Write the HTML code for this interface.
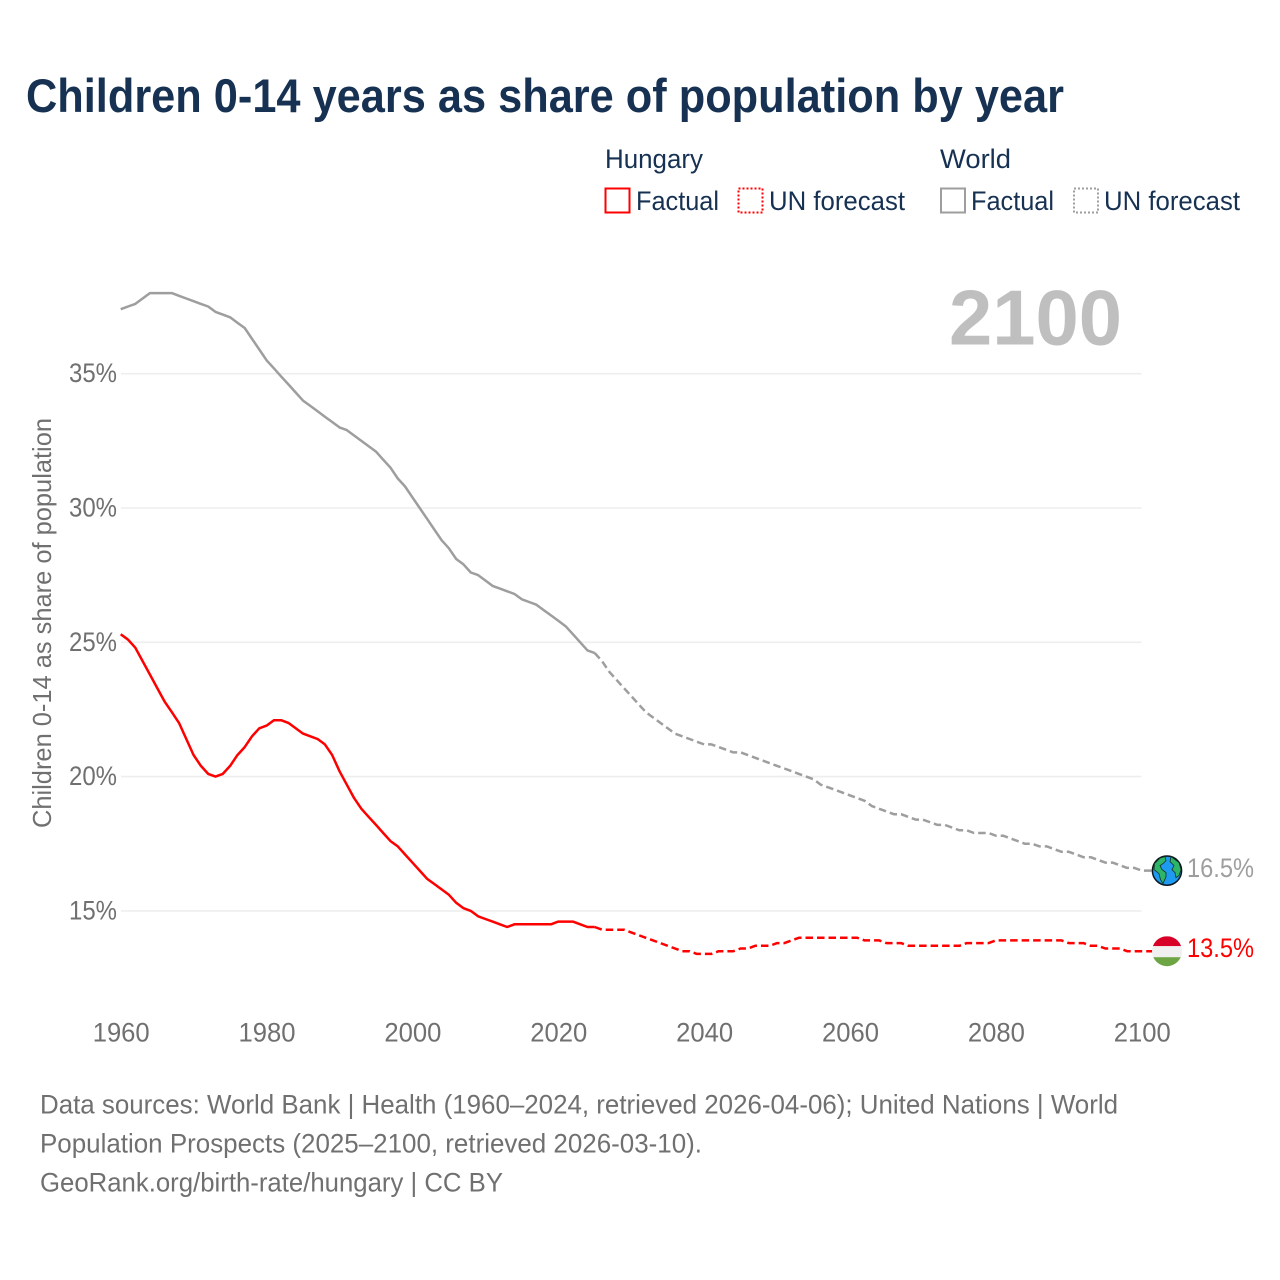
<!DOCTYPE html>
<html lang="en">
<head>
<meta charset="utf-8">
<title>Children 0-14 years as share of population by year</title>
<style>
html,body{margin:0;padding:0;background:#fff;width:1280px;height:1280px;overflow:hidden}
svg{display:block}
text{font-family:"Liberation Sans",sans-serif}
</style>
</head>
<body>
<svg id="chart" xmlns="http://www.w3.org/2000/svg" width="1280" height="1280" viewBox="0 0 1280 1280">
  <rect x="0" y="0" width="1280" height="1280" fill="#fff"/>
  <text x="26" y="112" font-size="47" font-weight="700" fill="#163152" textLength="1038" lengthAdjust="spacingAndGlyphs">Children 0-14 years as share of population by year</text>

  <g font-size="27" fill="#163152">
    <text x="605" y="168" textLength="98" lengthAdjust="spacingAndGlyphs">Hungary</text>
    <rect x="605.5" y="188.5" width="24" height="24" fill="none" stroke="#ff0000" stroke-width="2"/>
    <text x="636" y="210" textLength="83" lengthAdjust="spacingAndGlyphs">Factual</text>
    <rect x="738.5" y="188.5" width="24" height="24" fill="none" stroke="#ff0000" stroke-width="2" stroke-dasharray="2 2"/>
    <text x="769" y="210" textLength="136" lengthAdjust="spacingAndGlyphs">UN forecast</text>
    <text x="940" y="168" textLength="71" lengthAdjust="spacingAndGlyphs">World</text>
    <rect x="941" y="188.5" width="24" height="24" fill="none" stroke="#9e9e9e" stroke-width="2"/>
    <text x="971" y="210" textLength="83" lengthAdjust="spacingAndGlyphs">Factual</text>
    <rect x="1074" y="188.5" width="24" height="24" fill="none" stroke="#9e9e9e" stroke-width="2" stroke-dasharray="2 2"/>
    <text x="1104" y="210" textLength="136" lengthAdjust="spacingAndGlyphs">UN forecast</text>
  </g>

  <text x="949" y="344.5" font-size="78" font-weight="700" fill="#bfbfbf" textLength="173" lengthAdjust="spacingAndGlyphs">2100</text>
  <text transform="translate(51 828) rotate(-90)" font-size="26" fill="#707070" textLength="410" lengthAdjust="spacingAndGlyphs">Children 0-14 as share of population</text>

  <g id="grid"></g>
  <g id="yticks"></g>
  <g id="xticks"></g>
  <g id="series"></g>

  <g id="world-icon">
    <circle cx="0" cy="0" r="14.6" fill="#1e9bf0" stroke="#0b1620" stroke-width="1.5"/>
    <path d="M-12.5-7-7-12.5-2-14-1-10-4-7-7-5-5-1-1 2-1 6-4 13-6.500 9-8 3-13-1Z" fill="#2fb56a" stroke="#12321f" stroke-width="0.8"/>
    <path d="M4-14 12-8 14-1 12 5 9 7 8 2 5-1 7-5 3-9Z" fill="#2fb56a" stroke="#12321f" stroke-width="0.8"/>
  </g>
  <g id="hungary-icon">
    <clipPath id="flag-clip"><circle cx="0" cy="0" r="15"/></clipPath>
    <g clip-path="url(#flag-clip)">
      <rect x="-15" y="-15" width="30" height="10" fill="#d80027"/>
      <rect x="-15" y="-5" width="30" height="11" fill="#f0f0f0"/>
      <rect x="-15" y="6" width="30" height="10" fill="#6da544"/>
    </g>
  </g>
  <g id="endlabels"></g>

  <g font-size="26.5" fill="#707070">
    <text x="40" y="1113.500" textLength="1078" lengthAdjust="spacingAndGlyphs">Data sources: World Bank | Health (1960–2024, retrieved 2026-04-06); United Nations | World</text>
    <text x="40" y="1152.500" textLength="662" lengthAdjust="spacingAndGlyphs">Population Prospects (2025–2100, retrieved 2026-03-10).</text>
    <text x="40" y="1191.500" textLength="463" lengthAdjust="spacingAndGlyphs">GeoRank.org/birth-rate/hungary | CC BY</text>
  </g>
</svg>
<script>
const xTickYears = [1960, 1980, 2000, 2020, 2040, 2060, 2080, 2100];
const yTickValues = [15, 20, 25, 30, 35];
const factualStartYear = 1960;
const forecastStartYear = 2025;
const hungaryFactual = [25.3,25.1,24.8,24.3,23.8,23.3,22.8,22.4,22.0,21.4,20.8,20.4,20.1,20.0,20.1,20.4,20.8,21.1,21.5,21.8,21.9,22.1,22.1,22.0,21.8,21.6,21.5,21.4,21.2,20.8,20.2,19.7,19.2,18.8,18.5,18.2,17.9,17.6,17.4,17.1,16.8,16.5,16.2,16.0,15.8,15.6,15.3,15.1,15.0,14.8,14.7,14.6,14.5,14.4,14.5,14.5,14.5,14.5,14.5,14.5,14.6,14.6,14.6,14.5,14.4,14.4];
const hungaryForecast = [14.4,14.3,14.3,14.3,14.3,14.2,14.1,14.0,13.9,13.8,13.7,13.6,13.5,13.5,13.4,13.4,13.4,13.5,13.5,13.5,13.6,13.6,13.7,13.7,13.7,13.8,13.8,13.9,14.0,14.0,14.0,14.0,14.0,14.0,14.0,14.0,14.0,13.9,13.9,13.9,13.8,13.8,13.8,13.7,13.7,13.7,13.7,13.7,13.7,13.7,13.7,13.8,13.8,13.8,13.8,13.9,13.9,13.9,13.9,13.9,13.9,13.9,13.9,13.9,13.9,13.8,13.8,13.8,13.7,13.7,13.6,13.6,13.6,13.5,13.5,13.5];
const worldFactual = [37.4,37.5,37.6,37.8,38.0,38.0,38.0,38.0,37.9,37.8,37.7,37.6,37.5,37.3,37.2,37.1,36.9,36.7,36.3,35.9,35.5,35.2,34.9,34.6,34.3,34.0,33.8,33.6,33.4,33.2,33.0,32.9,32.7,32.5,32.3,32.1,31.8,31.5,31.1,30.8,30.4,30.0,29.6,29.2,28.8,28.5,28.1,27.9,27.6,27.5,27.3,27.1,27.0,26.9,26.8,26.6,26.5,26.4,26.2,26.0,25.8,25.6,25.3,25.0,24.7,24.6];
const worldForecast = [24.6,24.3,23.9,23.6,23.3,23.0,22.7,22.4,22.2,22.0,21.8,21.6,21.5,21.4,21.3,21.2,21.2,21.1,21.0,20.9,20.9,20.8,20.7,20.6,20.5,20.4,20.3,20.2,20.1,20.0,19.9,19.7,19.6,19.5,19.4,19.3,19.2,19.1,18.9,18.8,18.7,18.6,18.6,18.5,18.4,18.4,18.3,18.2,18.2,18.1,18.0,18.0,17.9,17.9,17.9,17.8,17.8,17.7,17.6,17.5,17.5,17.4,17.4,17.3,17.2,17.2,17.1,17.0,17.0,16.9,16.8,16.8,16.7,16.6,16.6,16.5];

const NS = 'http://www.w3.org/2000/svg';
const xScale = year => 120.7 + (year - 1960) * 7.293;
const yScale = value => 373.7 + (35 - value) * 26.86;
const ICON_X = 1167;

const grid = document.getElementById('grid');
const yticks = document.getElementById('yticks');
yTickValues.forEach(v => {
  const line = document.createElementNS(NS, 'line');
  
  
  line.setAttribute('x1', 121);
  line.setAttribute('x2', 1141.5);
  line.setAttribute('y1', yScale(v));
  line.setAttribute('y2', yScale(v));
  line.setAttribute('stroke', '#eeeeee');
  line.setAttribute('stroke-width', 1.6);
  grid.appendChild(line);
  const label = document.createElementNS(NS, 'text');
  
  
  label.setAttribute('x', 69);
  label.setAttribute('y', yScale(v) + 8.5);
  label.setAttribute('font-size', 26.5);
  label.setAttribute('fill', '#707070');
  label.setAttribute('textLength', 48);
  label.setAttribute('lengthAdjust', 'spacingAndGlyphs');
  label.textContent = v + '%';
  yticks.appendChild(label);
});

const xticks = document.getElementById('xticks');
xTickYears.forEach(y => {
  const label = document.createElementNS(NS, 'text');
  
  
  label.setAttribute('x', xScale(y) - 28);
  label.setAttribute('y', 1041.5);
  label.setAttribute('font-size', 26.5);
  label.setAttribute('fill', '#707070');
  label.setAttribute('textLength', 57);
  label.setAttribute('lengthAdjust', 'spacingAndGlyphs');
  label.textContent = String(y);
  xticks.appendChild(label);
});

function pathFor(values, startYear, extendToIcon) {
  const pts = values.map((v, i) => xScale(startYear + i).toFixed(1) + ',' + yScale(v).toFixed(1));
  if (extendToIcon) pts.push(ICON_X + ',' + yScale(values[values.length - 1]).toFixed(1));
  return 'M' + pts.join('L');
}

const seriesGroup = document.getElementById('series');
function addLine(d, color, dashed, name) {
  const p = document.createElementNS(NS, 'path');
  
  
  p.setAttribute('d', d);
  p.setAttribute('fill', 'none');
  p.setAttribute('stroke', color);
  p.setAttribute('stroke-width', 2.5);
  p.setAttribute('stroke-linejoin', 'round');
  if (dashed) p.setAttribute('stroke-dasharray', '7.5 4');
  seriesGroup.appendChild(p);
}
addLine(pathFor(worldFactual, factualStartYear, false), '#9e9e9e', false, 'world-factual-line');
addLine(pathFor(worldForecast, forecastStartYear, true), '#9e9e9e', true, 'world-forecast-line');
addLine(pathFor(hungaryFactual, factualStartYear, false), '#ff0000', false, 'hungary-factual-line');
addLine(pathFor(hungaryForecast, forecastStartYear, true), '#ff0000', true, 'hungary-forecast-line');

const worldEnd = worldForecast[worldForecast.length - 1];
const hungaryEnd = hungaryForecast[hungaryForecast.length - 1];
document.getElementById('world-icon').setAttribute('transform', 'translate(' + ICON_X + ' ' + yScale(worldEnd) + ')');
document.getElementById('hungary-icon').setAttribute('transform', 'translate(' + ICON_X + ' ' + yScale(hungaryEnd) + ')');

const endLabels = document.getElementById('endlabels');
const worldLabel = document.createElementNS(NS, 'text');


worldLabel.setAttribute('x', 1187);
worldLabel.setAttribute('y', yScale(worldEnd) + 6.5);
worldLabel.setAttribute('font-size', 26.5);
worldLabel.setAttribute('fill', '#9e9e9e');
worldLabel.setAttribute('textLength', 67);
worldLabel.setAttribute('lengthAdjust', 'spacingAndGlyphs');
worldLabel.textContent = worldEnd.toFixed(1) + '%';
endLabels.appendChild(worldLabel);
const hungaryLabel = document.createElementNS(NS, 'text');


hungaryLabel.setAttribute('x', 1187);
hungaryLabel.setAttribute('y', yScale(hungaryEnd) + 6);
hungaryLabel.setAttribute('font-size', 26.5);
hungaryLabel.setAttribute('fill', '#ff0000');
hungaryLabel.setAttribute('textLength', 67);
hungaryLabel.setAttribute('lengthAdjust', 'spacingAndGlyphs');
hungaryLabel.textContent = hungaryEnd.toFixed(1) + '%';
endLabels.appendChild(hungaryLabel);
</script>
</body>
</html>
